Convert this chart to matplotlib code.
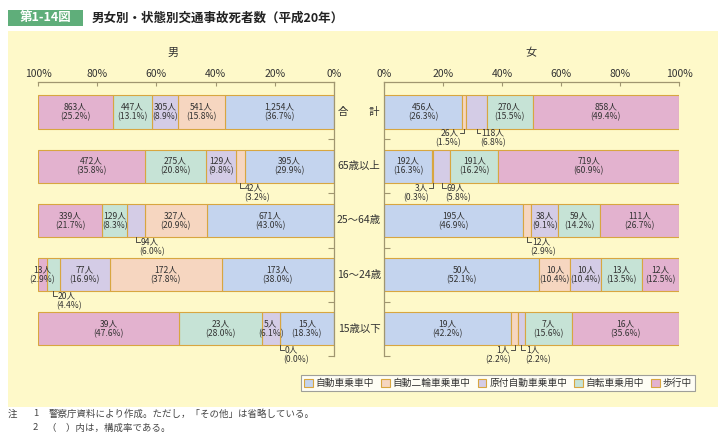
import matplotlib
matplotlib.use("Agg")
import matplotlib.pyplot as plt
from matplotlib.patches import Rectangle, Patch
from matplotlib.transforms import blended_transform_factory

plt.rcParams["font.family"] = ["Noto Sans CJK JP", "DejaVu Sans"]

W, H = 727, 443

categories = ["合\u3000\u3000計", "65歳以上", "25〜64歳", "16〜24歳", "15歳以下"]
modes = ["自動車乗車中", "自動二輪車乗車中", "原付自動車乗車中", "自転車乗用中", "歩行中"]
colors = ["#c4d4ee", "#f6d6c0", "#d4cce6", "#c6e3d6", "#e3b2cf"]

# 男: counts and shares, per category, in mode order
male_n = [
    [1254, 541, 305, 447, 863],
    [395, 42, 129, 275, 472],
    [671, 327, 94, 129, 339],
    [173, 172, 77, 20, 13],
    [15, 0, 5, 23, 39],
]
male_pct = [
    [36.7, 15.8, 8.9, 13.1, 25.2],
    [29.9, 3.2, 9.8, 20.8, 35.8],
    [43.0, 20.9, 6.0, 8.3, 21.7],
    [38.0, 37.8, 16.9, 4.4, 2.9],
    [18.3, 0.0, 6.1, 28.0, 47.6],
]
# 女
female_n = [
    [456, 26, 118, 270, 858],
    [192, 3, 69, 191, 719],
    [195, 12, 38, 59, 111],
    [50, 10, 10, 13, 12],
    [19, 1, 1, 7, 16],
]
female_pct = [
    [26.3, 1.5, 6.8, 15.5, 49.4],
    [16.3, 0.3, 5.8, 16.2, 60.9],
    [46.9, 2.9, 9.1, 14.2, 26.7],
    [52.1, 10.4, 10.4, 13.5, 12.5],
    [42.2, 2.2, 2.2, 15.6, 35.6],
]

# small segments labelled below the bar: (category, mode) -> screen side
male_callouts = {(1, 1): 1, (2, 2): 1, (3, 3): 1, (4, 1): 1}
female_callouts = {(0, 1): -1, (0, 2): 1, (1, 1): -1, (1, 2): 1,
                   (2, 1): 1, (4, 1): -1, (4, 2): 1}

ticks = [0, 20, 40, 60, 80, 100]
line_c = "#a09670"
edge_c = "#d8a640"
txt_c = "#333333"

fig = plt.figure(figsize=(W / 100, H / 100), dpi=100)
fig.patch.set_facecolor("white")

# yellow panel and title
fig.patches.append(Rectangle((8 / W, 1 - 407 / H), 710 / W, 376 / H,
                             transform=fig.transFigure, facecolor="#fef9c9",
                             edgecolor="none", zorder=-5))
fig.patches.append(Rectangle((8 / W, 1 - 26 / H), 75 / W, 16 / H,
                             transform=fig.transFigure, facecolor="#5fae7a",
                             edgecolor="none", zorder=-5))
fig.text(45.5 / W, 1 - 18 / H, "第1-14図", color="white", fontsize=9,
         ha="center", va="center", fontweight="bold")
fig.text(92 / W, 1 - 18 / H, "男女別・状態別交通事故死者数（平成20年）",
         color="#222222", fontsize=9, ha="left", va="center", fontweight="bold")

ax_m = fig.add_axes([38 / W, 1 - 356 / H, 296 / W, 274 / H])
ax_f = fig.add_axes([384 / W, 1 - 356 / H, 295 / W, 274 / H])


def draw(ax, counts, pcts, callouts, inverted):
    ax.set_facecolor("none")
    ax.set_zorder(2)
    for i in range(len(categories)):
        # bars fill the full width ("その他" omitted), labels keep the shares
        scale = 100.0 / sum(pcts[i])
        cum = 0
        for j in range(len(modes)):
            p = pcts[i][j]
            w = p * scale
            ax.barh(i, w, left=cum, height=0.61, color=colors[j],
                    edgecolor=edge_c, linewidth=0.8)
            xc = cum + w / 2
            lab_n = f"{counts[i][j]:,}人"
            lab_p = f"({p:.1f}%)"
            if (i, j) in callouts:
                d = callouts[(i, j)]
                ds = -d if inverted else d
                y0 = i + 0.305
                y1 = i + 0.395
                ax.plot([xc, xc, xc + ds * 1.3], [y0, y1, y1],
                        color=txt_c, linewidth=0.6)
                ha = "left" if d > 0 else "right"
                ax.text(xc + ds * 1.7, y1, lab_n, ha=ha, va="center",
                        fontsize=6.2, color=txt_c)
                ax.text(xc + ds * 1.2, y1 + 0.18, lab_p, ha=ha, va="center",
                        fontsize=6.2, color=txt_c)
            else:
                ax.text(xc, i, lab_n + "\n" + lab_p, ha="center", va="center",
                        fontsize=6.2, color=txt_c, linespacing=1.12)
            cum += w

    ax.set_xlim((100, 0) if inverted else (0, 100))
    ax.set_ylim(4.5, -0.553)
    ax.xaxis.tick_top()
    ax.set_xticks(ticks)
    ax.set_xticklabels([f"{t}%" for t in ticks], fontsize=7.5, color=txt_c)
    ax.tick_params(axis="x", direction="in", length=3, color=line_c, pad=2)
    ax.set_yticks([0.5, 1.5, 2.5, 3.5, 4.5])
    ax.set_yticklabels([])
    if inverted:
        ax.yaxis.tick_right()
    ax.tick_params(axis="y", direction="in", length=4, color=line_c)
    for s in ax.spines.values():
        s.set_visible(False)
    side = "right" if inverted else "left"
    for s in ("top", side):
        ax.spines[s].set_visible(True)
        ax.spines[s].set_color(line_c)
        ax.spines[s].set_linewidth(0.9)


draw(ax_m, male_n, male_pct, male_callouts, True)
draw(ax_f, female_n, female_pct, female_callouts, False)

fig.text(173 / W, 1 - 53 / H, "男", fontsize=8, ha="center", va="center", color=txt_c)
fig.text(531 / W, 1 - 53 / H, "女", fontsize=8, ha="center", va="center", color=txt_c)

tr = blended_transform_factory(ax_m.transAxes, ax_m.transData)
for i, c in enumerate(categories):
    ax_m.text((359 - 38) / 296, i, c, transform=tr, ha="center", va="center",
              fontsize=7.5, color=txt_c)

handles = [Patch(facecolor=c, edgecolor=edge_c, linewidth=0.8) for c in colors]
leg = fig.legend(handles, modes, loc="center", bbox_to_anchor=(498 / W, 1 - 383 / H),
                 ncol=5, fontsize=7, frameon=True, fancybox=False,
                 handlelength=0.9, handleheight=0.9, handletextpad=0.3,
                 columnspacing=0.7, borderpad=0.35)
leg.get_frame().set_edgecolor("#888888")
leg.get_frame().set_facecolor("white")
leg.get_frame().set_linewidth(0.8)
for t in leg.get_texts():
    t.set_color(txt_c)

note_c = "#444444"
fig.text(8 / W, 1 - 414 / H, "注", fontsize=6.8, va="center", color=note_c)
fig.text(33 / W, 1 - 414 / H, "1", fontsize=6.8, va="center", color=note_c)
fig.text(49 / W, 1 - 414 / H, "警察庁資料により作成。ただし，「その他」は省略している。",
         fontsize=6.8, va="center", color=note_c)
fig.text(33 / W, 1 - 428 / H, "2", fontsize=6.8, va="center", color=note_c)
fig.text(47 / W, 1 - 428 / H, "（\u3000）内は，構成率である。",
         fontsize=6.8, va="center", color=note_c)

fig.savefig("out.png", dpi=100)
